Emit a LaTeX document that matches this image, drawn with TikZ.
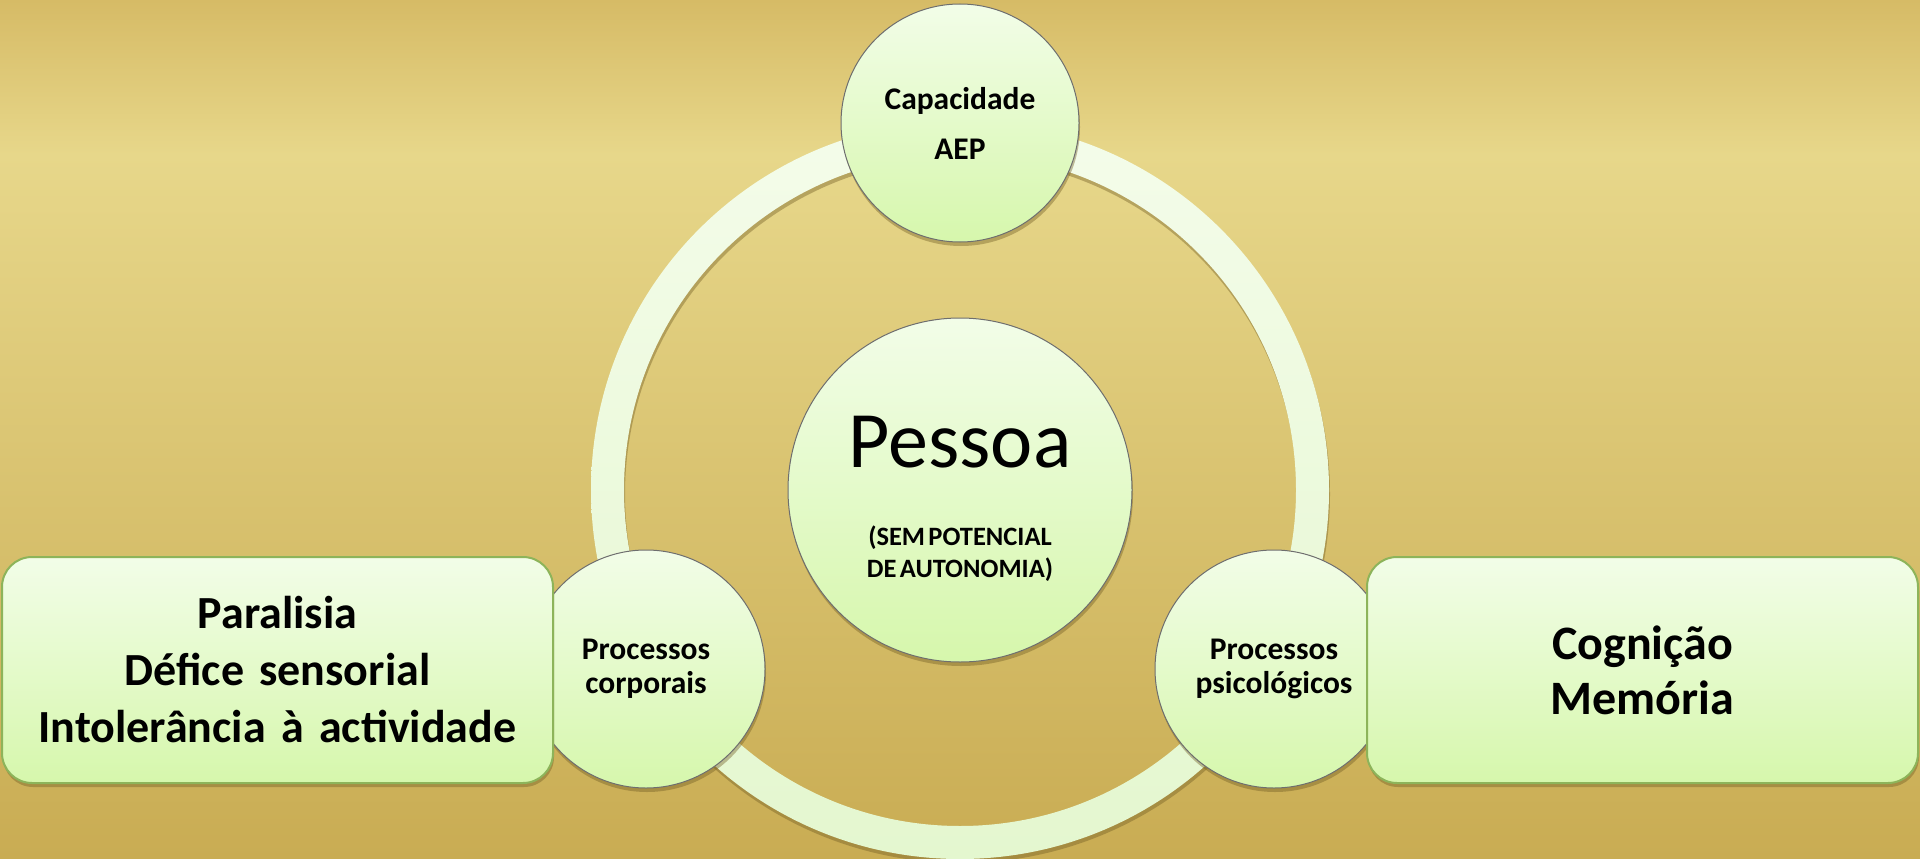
\documentclass[tikz,border=0pt]{standalone}
\usepackage{fontspec}
\setmainfont{Carlito}
\usetikzlibrary{shadows}

\definecolor{bgtop}{HTML}{D6BB66}
\definecolor{bglite}{HTML}{E7D78A}
\definecolor{bgbot}{HTML}{C9AC53}
\definecolor{nodetop}{HTML}{F2FDE8}
\definecolor{nodebot}{HTML}{D6F7AC}
\definecolor{ringtop}{HTML}{F4FCEA}
\definecolor{ringbot}{HTML}{E4F7CF}
\definecolor{rim}{HTML}{6E6E6E}
\definecolor{boxrim}{HTML}{8DB45A}
\definecolor{shadowc}{HTML}{6F5A22}

\pgfdeclareverticalshading{goldbg}{100bp}{color(0bp)=(bgbot); color(25bp)=(bgbot); color(66bp)=(bglite); color(75bp)=(bgtop); color(100bp)=(bgtop)}

\begin{document}
\begin{tikzpicture}[x=1pt,y=-1pt,semithick]
\tikzstyle{bolha}=[circle,draw=rim,line width=1pt,top color=nodetop,bottom color=nodebot,
  drop shadow={shadow xshift=1pt,shadow yshift=-4pt,opacity=.4,fill=shadowc},
  inner sep=0pt,minimum size=238pt,text width=190pt,align=center,
  font=\bfseries\fontsize{31.5}{34}\selectfont]
\tikzstyle{caixa}=[rectangle,rounded corners=30pt,draw=boxrim,line width=2pt,top color=nodetop,bottom color=nodebot,
  drop shadow={shadow xshift=1pt,shadow yshift=-4pt,opacity=.4,fill=shadowc},
  inner sep=0pt,minimum width=551pt,minimum height=226pt,text width=540pt,align=center,
  font=\bfseries\fontsize{46}{57}\selectfont]
\useasboundingbox (0,0) rectangle (1920,859);
\shade[shading=goldbg] (0,0) rectangle (1920,859);
% anel
\coordinate (c) at (960,490);
\fill[shadowc,opacity=.4,even odd rule] ([shift={(1,4)}]c) circle[radius=369] circle[radius=336];
\shade[even odd rule,top color=ringtop,bottom color=ringbot] (c) circle[radius=369] circle[radius=336];
% circulos
\node[bolha,minimum size=344pt,text width=240pt,font=\normalfont] (pessoa) at (c)
  {{\fontsize{80}{80}\selectfont\rule{0pt}{69pt}Pessoa\par}\vspace{46pt}
   {\bfseries\fontsize{26.5}{32}\selectfont (SEM POTENCIAL\\DE AUTONOMIA)\par}};
\node[bolha,font=\bfseries\fontsize{31.5}{50}\selectfont] (aep) at (960,123) {Capacidade\\AEP};
\node[bolha] (corp) at (646,669) {Processos\\corporais};
\node[bolha] (psi) at (1274,669) {Processos\\psicológicos};
% caixas
\node[caixa] (fis) at (277.5,670) {Paralisia\\Défice sensorial\\Intolerância à actividade};
\node[caixa,font=\bfseries\fontsize{48}{55}\selectfont] (cog) at (1642.5,670) {Cognição\\Memória};
\end{tikzpicture}
\end{document}
